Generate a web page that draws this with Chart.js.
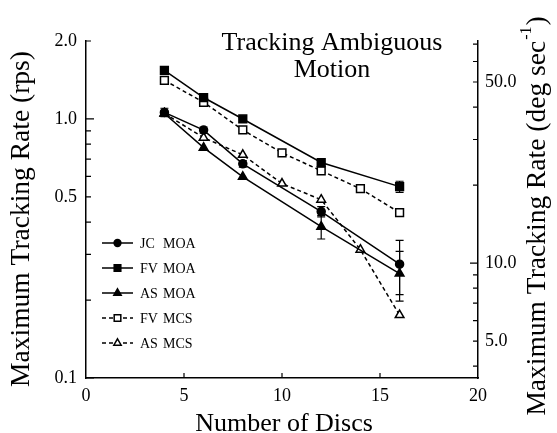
<!DOCTYPE html>
<html>
<head>
<meta charset="utf-8">
<script src="https://cdn.jsdelivr.net/npm/chart.js@4.4.0/dist/chart.umd.min.js"></script>
<style>
  html, body { margin: 0; padding: 0; background: #fff; }
  #wrap { width: 557px; height: 433px; }
</style>
</head>
<body>
<div id="wrap"><canvas id="chart"></canvas></div>
<script>
const SERIF = '"Liberation Serif", "Times New Roman", serif';

// number of discs (x) and tracking rates in rps; null = not measured
const discs = [4, 6, 8, 10, 12, 14, 16];
const jcMoa = [1.06, 0.906, 0.671, null, 0.439, null, 0.275];
const jcMoaErr = [0.04, 0.025, 0.02, null, 0.02, null, 0.065];
const fvMoa = [1.54, 1.21, 1.0, null, 0.679, null, 0.548];
const fvMoaErr = [null, null, null, null, null, null, 0.027];
const asMoa = [1.05, 0.775, 0.598, null, 0.384, null, 0.253];
const asMoaErr = [null, null, null, null, 0.04, null, 0.055];
const fvMcs = [1.41, 1.16, 0.907, 0.74, 0.631, 0.538, 0.435];
const asMcs = [1.05, 0.847, 0.727, 0.563, 0.488, 0.313, 0.175];

const subjects = ["JC", "FV", "AS", "FV", "AS"];
const conditions = ["MOA", "MOA", "MOA", "MCS", "MCS"];

const xTicks = [0, 5, 10, 15, 20];
const rpsTicks = [0.1, 0.2, 0.3, 0.4, 0.5, 0.6, 0.7, 0.8, 0.9, 1, 2];
const rpsLabels = [0.1, 0.5, 1, 2];
const degTicks = [4, 5, 6, 7, 8, 9, 10, 20, 30, 40, 50, 60, 70];
const degLabels = [5, 10, 50];
const degPerRev = 36; // right axis = left axis * 36

function pts(arr) {
  return discs.map((x, i) => ({ x: x, y: arr[i] })).filter(p => p.y !== null);
}
function errs(arr) {
  return discs.map((x, i) => ({ x: x, e: arr[i] })).filter(p => p.e !== null);
}

function series(label, arr, err, style, open, dashed) {
  return {
    label: label,
    data: pts(arr),
    errors: err ? errs(err) : [],
    borderColor: "#000",
    backgroundColor: open ? "#fff" : "#000",
    borderWidth: 1.5,
    borderDash: dashed ? [4, 3] : [],
    pointStyle: style,
    pointRadius: style === "rect" ? 5.5 : (style === "triangle" ? 5 : 4),
    pointBorderWidth: 1.5,
    pointBorderColor: "#000",
    pointBackgroundColor: open ? "#fff" : "#000",
    tension: 0,
    yAxisID: "y"
  };
}

// inward tick marks on the three axis lines
const tickMarks = {
  id: "tickMarks",
  afterDraw(chart) {
    const ctx = chart.ctx, a = chart.chartArea;
    const { x, y, y2 } = chart.scales;
    ctx.save();
    ctx.strokeStyle = "#000";
    ctx.lineWidth = 1.2;
    ctx.beginPath();
    y.ticks.forEach(t => {
      const py = y.getPixelForValue(t.value);
      const len = Math.abs(Math.log10(t.value) % 1) < 1e-6 ? 8 : 5;
      ctx.moveTo(a.left, py); ctx.lineTo(a.left + len, py);
    });
    y2.ticks.forEach(t => {
      const py = y2.getPixelForValue(t.value);
      const len = Math.abs(Math.log10(t.value) % 1) < 1e-6 ? 8 : 5;
      ctx.moveTo(a.right, py); ctx.lineTo(a.right - len, py);
    });
    x.ticks.forEach(t => {
      if (t.value === 0 || t.value === 20) return;
      const px = x.getPixelForValue(t.value);
      ctx.moveTo(px, a.bottom); ctx.lineTo(px, a.bottom - 5);
    });
    ctx.stroke();
    ctx.restore();
  }
};

// vertical error bars with caps
const errorBars = {
  id: "errorBars",
  afterDatasetsDraw(chart) {
    const ctx = chart.ctx;
    const { x, y } = chart.scales;
    ctx.save();
    ctx.strokeStyle = "#000";
    ctx.lineWidth = 1.2;
    chart.data.datasets.forEach(ds => {
      const vals = ds.data;
      ds.errors.forEach(er => {
        const p = vals.find(v => v.x === er.x);
        const px = x.getPixelForValue(er.x);
        const top = y.getPixelForValue(p.y + er.e);
        const bot = y.getPixelForValue(p.y - er.e);
        ctx.beginPath();
        ctx.moveTo(px, top); ctx.lineTo(px, bot);
        ctx.moveTo(px - 4, top); ctx.lineTo(px + 4, top);
        ctx.moveTo(px - 4, bot); ctx.lineTo(px + 4, bot);
        ctx.stroke();
      });
    });
    ctx.restore();
  }
};

// legend inside the plot, title and axis titles
const annotations = {
  id: "annotations",
  afterDraw(chart) {
    const ctx = chart.ctx;
    ctx.save();
    ctx.fillStyle = "#000";
    ctx.strokeStyle = "#000";

    chart.data.datasets.forEach((ds, i) => {
      const ly = 243 + i * 25;
      ctx.save();
      ctx.lineWidth = 1.5;
      ctx.setLineDash(ds.borderDash);
      ctx.beginPath();
      ctx.moveTo(102, ly); ctx.lineTo(133, ly);
      ctx.stroke();
      ctx.restore();
      ctx.save();
      ctx.fillStyle = ds.pointBackgroundColor;
      ctx.lineWidth = 1.5;
      Chart.helpers.drawPoint(ctx, {
        pointStyle: ds.pointStyle,
        radius: ds.pointRadius * 0.85,
        rotation: 0,
        borderWidth: 1.5
      }, 117.5, ly);
      ctx.restore();
      ctx.font = "14px " + SERIF;
      ctx.textBaseline = "middle";
      ctx.textAlign = "left";
      ctx.fillText(subjects[i], 140, ly + 1);
      ctx.fillText(conditions[i], 163, ly + 1);
    });

    ctx.textAlign = "center";
    ctx.textBaseline = "alphabetic";
    ctx.font = "26px " + SERIF;
    ctx.fillText("Tracking Ambiguous", 332, 50);
    ctx.fillText("Motion", 332, 77);

    ctx.font = "26px " + SERIF;
    ctx.fillText("Number of Discs", 284, 431);

    ctx.save();
    ctx.translate(22, 219);
    ctx.rotate(-Math.PI / 2);
    ctx.textBaseline = "middle";
    ctx.font = "27.5px " + SERIF;
    ctx.fillText("Maximum Tracking Rate (rps)", 0, 0);
    ctx.restore();

    ctx.save();
    ctx.translate(538, 217);
    ctx.rotate(-Math.PI / 2);
    ctx.textBaseline = "middle";
    ctx.textAlign = "left";
    const main = "Maximum Tracking Rate (deg sec";
    ctx.font = "27.5px " + SERIF;
    const w1 = ctx.measureText(main).width;
    const w3 = ctx.measureText(")").width;
    ctx.font = "16px " + SERIF;
    const w2 = ctx.measureText("-1").width;
    let sx = -(w1 + w2 + w3) / 2;
    ctx.font = "27.5px " + SERIF;
    ctx.fillText(main, sx, 0);
    ctx.font = "16px " + SERIF;
    ctx.fillText("-1", sx + w1 + 1, -11);
    ctx.font = "27.5px " + SERIF;
    ctx.fillText(")", sx + w1 + w2 + 2, 0);
    ctx.restore();

    ctx.restore();
  }
};

const ctx = document.getElementById("chart").getContext("2d");
const chart = new Chart(ctx, {
  type: "line",
  data: {
    datasets: [
      series("JC MOA", jcMoa, jcMoaErr, "circle", false, false),
      series("FV MOA", fvMoa, fvMoaErr, "rect", false, false),
      series("AS MOA", asMoa, asMoaErr, "triangle", false, false),
      series("FV MCS", fvMcs, null, "rect", true, true),
      series("AS MCS", asMcs, null, "triangle", true, true)
    ]
  },
  options: {
    responsive: true,
    maintainAspectRatio: false,
    animation: false,
    devicePixelRatio: 1,
    layout: { padding: { top: 41, left: 0, right: 0, bottom: 0 } },
    plugins: { legend: { display: false }, title: { display: false }, tooltip: { enabled: false } },
    scales: {
      x: {
        type: "linear",
        min: 0,
        max: 20,
        afterBuildTicks: s => { s.ticks = xTicks.map(v => ({ value: v })); },
        afterFit: s => { s.height = 55; },
        grid: { display: false, drawTicks: false },
        border: { display: true, color: "#000", width: 1.5 },
        ticks: { color: "#000", padding: 7, autoSkip: false, maxRotation: 0,
                 font: { family: SERIF, size: 18 } }
      },
      y: {
        type: "logarithmic",
        position: "left",
        min: 0.1,
        max: 2,
        afterBuildTicks: s => { s.ticks = rpsTicks.map(v => ({ value: v })); },
        afterFit: s => { s.width = 86; },
        grid: { display: false, drawTicks: false },
        border: { display: true, color: "#000", width: 1.5 },
        ticks: {
          color: "#000", padding: 9, autoSkip: false,
          font: { family: SERIF, size: 18 },
          callback: v => rpsLabels.includes(v) ? v.toFixed(1) : ""
        }
      },
      y2: {
        type: "logarithmic",
        position: "right",
        min: 0.1 * degPerRev,
        max: 2 * degPerRev,
        afterBuildTicks: s => { s.ticks = degTicks.map(v => ({ value: v })); },
        afterFit: s => { s.width = 79; },
        grid: { display: false, drawTicks: false },
        border: { display: true, color: "#000", width: 1.5 },
        ticks: {
          color: "#000", padding: 7, autoSkip: false,
          font: { family: SERIF, size: 18 },
          callback: v => degLabels.includes(v) ? v.toFixed(1) : ""
        }
      }
    }
  },
  plugins: [tickMarks, errorBars, annotations]
});
</script>
</body>
</html>
